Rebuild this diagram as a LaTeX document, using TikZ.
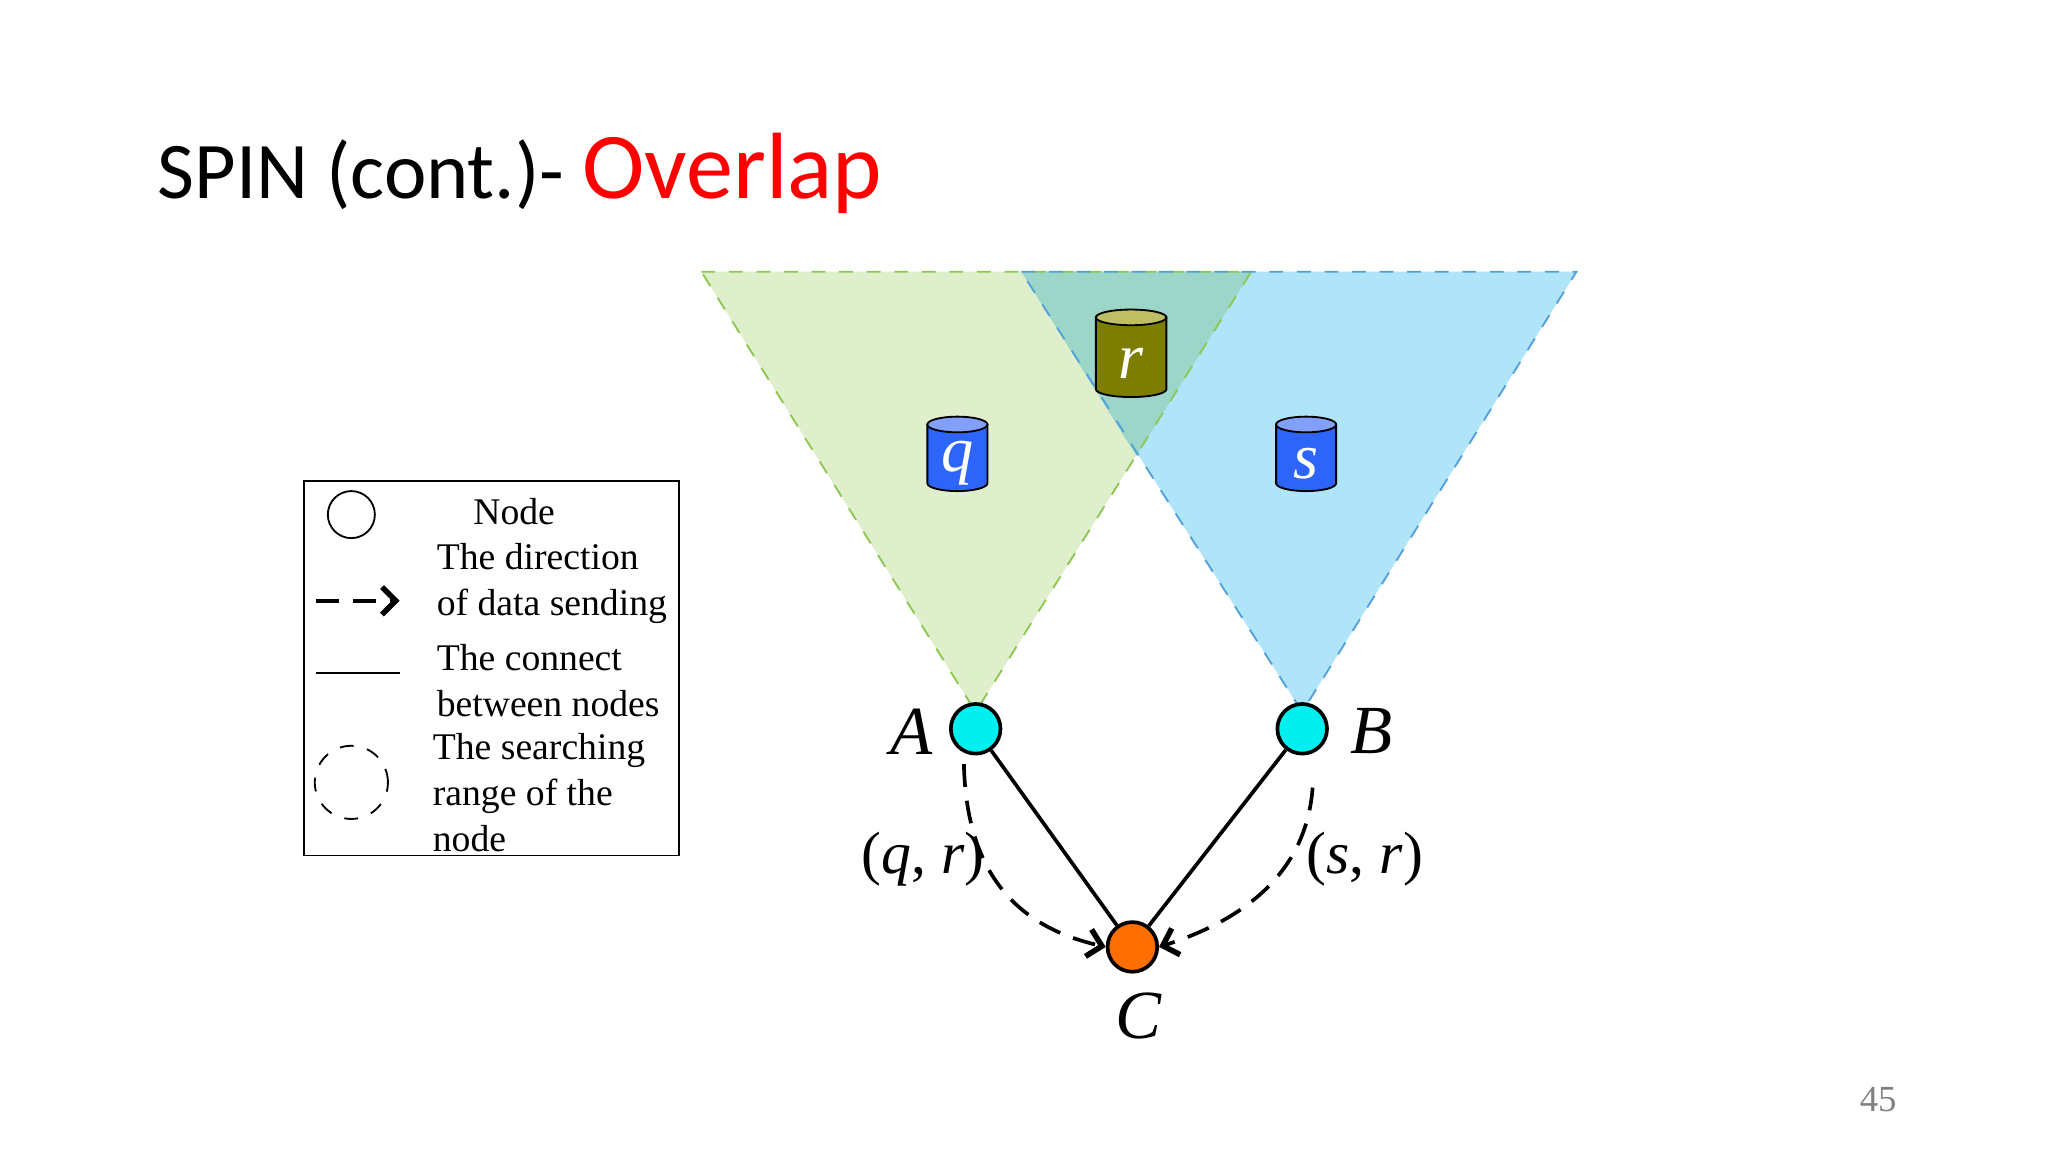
\documentclass[tikz,border=0pt]{standalone}
\usepackage{fontspec}
\setmainfont{Liberation Serif}
\newfontfamily\calib{Carlito}
\usetikzlibrary{arrows.meta}
\definecolor{gfill}{RGB}{223,239,204}
\definecolor{bfill}{RGB}{176,228,248}
\definecolor{ofill}{RGB}{155,214,200}
\definecolor{gline}{RGB}{140,200,80}
\definecolor{bline}{RGB}{80,160,220}
\definecolor{cyl}{RGB}{45,100,250}
\definecolor{cyltop}{RGB}{130,160,250}
\definecolor{oli}{RGB}{125,125,0}
\definecolor{olitop}{RGB}{190,190,100}
\definecolor{ncyan}{RGB}{0,240,240}
\definecolor{norange}{RGB}{255,110,0}
\tikzset{
 pt/.style={circle,draw,thick,minimum size=0.38cm,inner sep=0},
 lbl/.style={font=\fontsize{14}{14}\selectfont\itshape},
 leg/.style={font=\fontsize{8.2}{10}\selectfont,align=left,anchor=west},
 darr/.style={thick,dashed,dash pattern=on 5pt off 3pt,-{Straight Barb[length=3pt,width=6pt,line width=1.2pt]}}
}
\newcommand{\mycyl}[6]{% x, ytop, ybot, halfw, body, top
 \fill[#5,draw=black,thin] (#1-#4,#2) -- (#1-#4,#3) arc[start angle=180,end angle=0,x radius=#4,y radius=6] -- (#1+#4,#2) -- cycle;
 \filldraw[#6,draw=black,thin] (#1,#2) ellipse[x radius=#4,y radius=6];
}
\begin{document}
\begin{tikzpicture}[x=0.01cm,y=-0.01cm]
\useasboundingbox[fill=white] (0,0) rectangle (1568,882);
\node[anchor=base west,inner sep=0] (title) at (120,152) {\calib\fontsize{17.5}{18}\selectfont SPIN (cont.)- \textcolor{red}{\fontsize{20.5}{22}\selectfont Overlap}};
% triangles
\fill[gfill] (537,208) -- (958,208) -- (747,545) -- cycle;
\fill[bfill] (782,208) -- (1207,208) -- (997,545) -- cycle;
\fill[ofill] (782,208) -- (958,208) -- (870,349) -- cycle;
\draw[gline,dashed] (537,208) -- (958,208) -- (747,545) -- cycle;
\draw[bline,dashed] (782,208) -- (1207,208) -- (997,545) -- cycle;
% cylinders
\mycyl{733}{325}{370}{23}{cyl}{cyltop}
\node[lbl,white] (q) at (733,355) {q};
\mycyl{866}{243}{298}{27}{oli}{olitop}
\node[lbl,white] (r) at (866,278) {r};
\mycyl{1000}{325}{370}{23}{cyl}{cyltop}
\node[lbl,white] (s) at (1000,355) {s};
% nodes
\node[pt,fill=ncyan] (A) at (747,558) {};
\node[pt,fill=ncyan] (B) at (997,558) {};
\node[pt,fill=norange] (C) at (867,725) {};
\node[lbl,font=\fontsize{15}{15}\selectfont\itshape] (Al) at (698,560) {A};
\node[lbl,font=\fontsize{15}{15}\selectfont\itshape] (Bl) at (1050,560) {B};
\node[lbl,font=\fontsize{15}{15}\selectfont\itshape] (Cl) at (872,778) {C};
\draw[thick] (A) -- (C);
\draw[thick] (B) -- (C);
\coordinate (a1) at (738,585);
\coordinate (b1) at (1005,603);
\draw[darr] (a1) .. controls (740,680) and (790,712) .. (C.west);
\draw[darr] (b1) .. controls (1000,670) and (950,705) .. (C.east);
\node[font=\fontsize{13}{13}\selectfont] (qr) at (707,658) {(\textit{q}, \textit{r})};
\node[font=\fontsize{13}{13}\selectfont] (sr) at (1045,658) {(\textit{s}, \textit{r})};
% legend
\draw (233,368) rectangle (520,655);
\node[circle,draw,minimum size=0.36cm,inner sep=0] (l1) at (269,394) {};
\node[leg] (t1) at (350,392) {Node};
\coordinate (l2a) at (242,460); \coordinate (l2b) at (306,460);
\draw[darr] (l2a) -- (l2b);
\node[leg] (t2) at (322,447) {The direction\\of data sending};
\coordinate (l3a) at (242,515); \coordinate (l3b) at (306,515);
\draw (l3a) -- (l3b);
\node[leg] (t3) at (322,521) {The connect\\between nodes};
\node[circle,draw,dashed,minimum size=0.56cm,inner sep=0] (l4) at (269,599) {};
\node[leg] (t4) at (319,607) {The searching\\range of the\\node};
\node[text=gray,font=\fontsize{8}{8}\selectfont] (pg) at (1438,842) {45};
\end{tikzpicture}
\end{document}
